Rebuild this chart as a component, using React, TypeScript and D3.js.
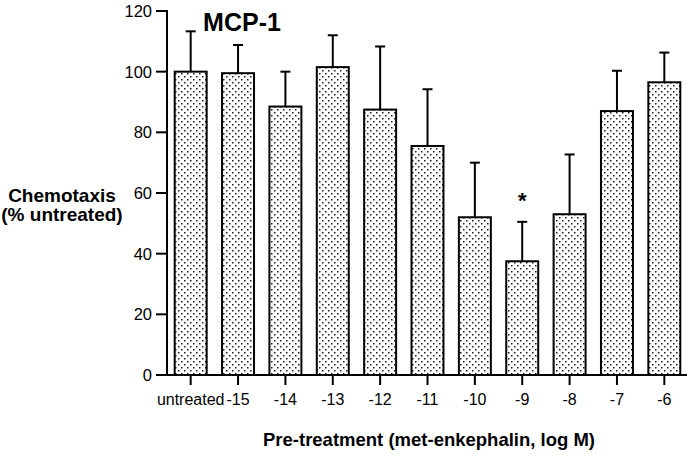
import React from "react";
import * as d3 from "d3";

const categories = ["untreated", "-15", "-14", "-13", "-12", "-11", "-10", "-9", "-8", "-7", "-6"];
const means = [100, 99.5, 88.5, 101.5, 87.5, 75.5, 52, 37.5, 53, 87, 96.5];
const errorTops = [113.3, 108.8, 100, 112, 108.3, 94.2, 70, 50.5, 72.7, 100.3, 106.3];
const yTicks = [0, 20, 40, 60, 80, 100, 120];
const significant = ["-9"];

const W = 693;
const H = 462;
const FONT = "'Liberation Sans', Arial, Helvetica, sans-serif";

export default function App() {
  const x = d3
    .scaleBand<string>()
    .domain(categories)
    .range([167, 688])
    .paddingInner(0.325)
    .paddingOuter(0.1625);
  const y = d3.scaleLinear().domain([0, 120]).range([375, 11]);
  const bw = x.bandwidth();
  const capHalf = 5;

  return (
    <svg
      width={W}
      height={H}
      style={{ position: "absolute", left: 0, top: 0, background: "#fff" }}
      fontFamily={FONT}
    >
      <defs>
        <pattern id="dots" width="6" height="6" patternUnits="userSpaceOnUse">
          <rect x="0" y="0" width="6" height="6" fill="#fff" />
          <rect x="1" y="1" width="1.5" height="1.5" fill="#1a1a1a" />
          <rect x="4" y="4" width="1.5" height="1.5" fill="#1a1a1a" />
        </pattern>
      </defs>

      {/* error bars */}
      {categories.map((c, i) => {
        const cx = (x(c) as number) + bw / 2;
        return (
          <g key={"e" + c} stroke="#000" strokeWidth={2}>
            <line x1={cx} x2={cx} y1={y(means[i])} y2={y(errorTops[i])} />
            <line x1={cx - capHalf} x2={cx + capHalf} y1={y(errorTops[i])} y2={y(errorTops[i])} />
          </g>
        );
      })}

      {/* bars */}
      {categories.map((c, i) => (
        <rect
          key={"b" + c}
          x={x(c) as number}
          y={y(means[i])}
          width={bw}
          height={y(0) - y(means[i])}
          fill="url(#dots)"
          stroke="#000"
          strokeWidth={2}
        />
      ))}

      {/* significance */}
      {categories.map((c, i) =>
        significant.includes(c) ? (
          <text
            key={"s" + c}
            x={(x(c) as number) + bw / 2}
            y={y(errorTops[i]) - 14}
            textAnchor="middle"
            fontSize={22}
            fontWeight="bold"
          >
            *
          </text>
        ) : null
      )}

      {/* y axis */}
      <line x1={167} x2={167} y1={y(120) - 1} y2={y(0)} stroke="#000" strokeWidth={2} />
      {yTicks.map((t) => (
        <g key={"yt" + t}>
          <line x1={156} x2={167} y1={y(t)} y2={y(t)} stroke="#000" strokeWidth={2} />
          <text x={152} y={y(t) + 6} textAnchor="end" fontSize={16.5}>
            {t}
          </text>
        </g>
      ))}

      {/* x axis */}
      <line x1={166} x2={687} y1={y(0)} y2={y(0)} stroke="#000" strokeWidth={2} />
      {categories.map((c) => {
        const cx = (x(c) as number) + bw / 2;
        return (
          <g key={"xt" + c}>
            <line x1={cx} x2={cx} y1={y(0)} y2={y(0) + 10} stroke="#000" strokeWidth={2} />
            <text x={cx} y={405} textAnchor="middle" fontSize={16}>
              {c}
            </text>
          </g>
        );
      })}

      {/* titles */}
      <text x={242} y={30.5} textAnchor="middle" fontSize={25} fontWeight="bold">
        MCP-1
      </text>
      <text x={62} y={201.5} textAnchor="middle" fontSize={19} fontWeight="bold">
        Chemotaxis
      </text>
      <text x={62} y={220.5} textAnchor="middle" fontSize={19} fontWeight="bold">
        (% untreated)
      </text>
      <text x={429} y={445.5} textAnchor="middle" fontSize={18.5} fontWeight="bold">
        Pre-treatment (met-enkephalin, log M)
      </text>
    </svg>
  );
}
